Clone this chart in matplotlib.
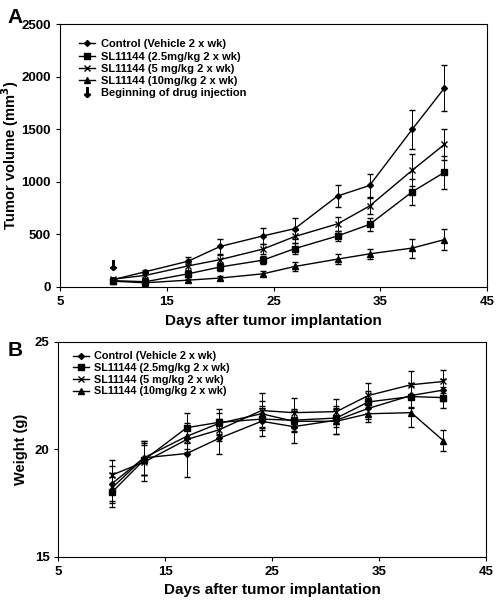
import matplotlib.pyplot as plt

plt.rcParams['font.family'] = ['Liberation Sans', 'DejaVu Sans']
plt.rcParams['font.weight'] = 'bold'

days = [10, 13, 17, 20, 24, 27, 31, 34, 38, 41]
labels = ['Control (Vehicle 2 x wk)', 'SL11144 (2.5mg/kg 2 x wk)',
          'SL11144 (5 mg/kg 2 x wk)', 'SL11144 (10mg/kg 2 x wk)']

# Panel A: tumor volume (mm3)
vol_control = [70, 145, 245, 385, 485, 555, 865, 965, 1500, 1890]
vol_2_5 = [60, 50, 125, 190, 255, 365, 485, 595, 905, 1090]
vol_5 = [75, 110, 200, 260, 360, 480, 600, 770, 1110, 1355]
vol_10 = [55, 40, 65, 85, 125, 195, 265, 315, 370, 450]
err_vol_control = [15, 20, 40, 70, 80, 100, 100, 105, 185, 220]
err_vol_2_5 = [10, 15, 30, 35, 35, 50, 50, 60, 125, 160]
err_vol_5 = [15, 20, 35, 45, 50, 60, 70, 80, 150, 150]
err_vol_10 = [10, 10, 15, 15, 25, 40, 50, 50, 90, 100]
injection_day = 10
injection_y = 210

# Panel B: body weight (g)
wt_control = [18.4, 19.6, 19.8, 20.5, 21.3, 21.05, 21.35, 21.9, 22.5, 22.75]
wt_2_5 = [18.0, 19.5, 21.0, 21.25, 21.4, 21.35, 21.45, 22.2, 22.45, 22.4]
wt_5 = [18.8, 19.4, 20.45, 20.9, 21.8, 21.7, 21.75, 22.5, 23.0, 23.15]
wt_10 = [18.2, 19.6, 20.6, 21.2, 21.65, 21.3, 21.3, 21.65, 21.7, 20.4]
err_wt_control = [0.8, 0.8, 1.1, 0.7, 0.7, 0.75, 0.65, 0.5, 0.6, 0.5]
err_wt_2_5 = [0.7, 0.7, 0.7, 0.6, 0.5, 0.5, 0.4, 0.5, 0.5, 0.5]
err_wt_5 = [0.7, 0.9, 0.6, 0.5, 0.8, 0.7, 0.6, 0.6, 0.65, 0.55]
err_wt_10 = [0.7, 0.8, 0.6, 0.5, 0.6, 0.5, 0.6, 0.4, 0.65, 0.5]

markers = ['D', 's', 'x', '^']
msizes = [3, 4.5, 5, 4]

fig = plt.figure(figsize=(4.99, 6.01), dpi=100)
axA = fig.add_axes([0.1202, 0.5225, 0.8558, 0.4375])
axB = fig.add_axes([0.1172, 0.0737, 0.8568, 0.3577])


def draw(ax, series, errs):
    handles = []
    for y, e, m, ms, lab in zip(series, errs, markers, msizes, labels):
        c = ax.errorbar(days, y, yerr=e, color='black', lw=1.0, marker=m, ms=ms,
                        mew=1.0, elinewidth=0.7, capsize=2, capthick=0.7)
        handles.append(c.lines[0])
    return handles


hA = draw(axA, [vol_control, vol_2_5, vol_5, vol_10],
          [err_vol_control, err_vol_2_5, err_vol_5, err_vol_10])
arrow, = axA.plot([injection_day], [injection_y], ls='none', color='black',
                  marker=r'$\downarrow$', ms=7)

hB = draw(axB, [wt_control, wt_2_5, wt_5, wt_10],
          [err_wt_control, err_wt_2_5, err_wt_5, err_wt_10])

for ax in (axA, axB):
    ax.set_xlim(5, 45)
    ax.set_xticks([5, 15, 25, 35, 45])
    ax.tick_params(direction='out', length=3, width=0.8, labelsize=9.5)
    for s in ax.spines.values():
        s.set_linewidth(0.8)
    ax.set_xlabel('Days after tumor implantation', fontsize=11, fontweight='bold')
    for t in ax.get_xticklabels() + ax.get_yticklabels():
        t.set_fontweight('bold')

axA.set_ylim(0, 2500)
axA.set_yticks([0, 500, 1000, 1500, 2000, 2500])
axA.set_ylabel('Tumor volume (mm$^3$)', fontsize=10.5, fontweight='bold')
axA.yaxis.set_label_coords(-0.092, 0.5)
axB.set_ylim(15, 25)
axB.set_yticks([15, 20, 25])
axB.set_ylabel('Weight (g)', fontsize=10.5, fontweight='bold')
axB.yaxis.set_label_coords(-0.072, 0.5)

axA.legend(hA + [arrow], labels + ['Beginning of drug injection'],
           loc='upper left', frameon=False,
           handlelength=1.5, handletextpad=0.5, labelspacing=0.2,
           bbox_to_anchor=(0.02, 0.98), prop={'weight': 'bold', 'size': 8})
axB.legend(hB, labels, loc='upper left', frameon=False,
           handlelength=1.5, handletextpad=0.5, labelspacing=0.15,
           bbox_to_anchor=(0.01, 1.0), prop={'weight': 'bold', 'size': 7.8})

fig.text(0.015, 0.962, 'A', fontsize=15, fontweight='bold')
fig.text(0.015, 0.408, 'B', fontsize=15, fontweight='bold')

fig.savefig('out.png', dpi=100)
